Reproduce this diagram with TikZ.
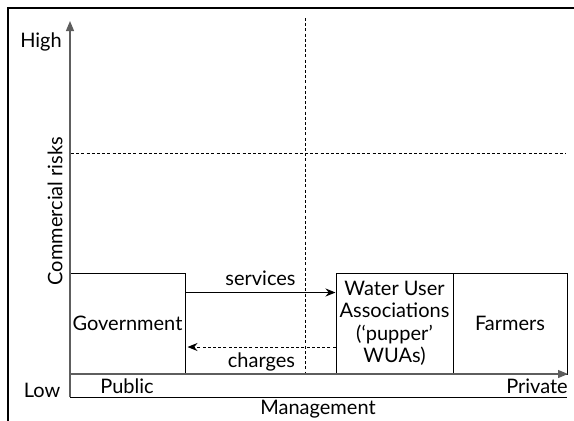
\documentclass[tikz,border=0pt]{standalone}
\usepackage{fontspec}
\setmainfont{Lato}
\usetikzlibrary{arrows.meta}
\definecolor{axisgray}{HTML}{5E5E5E}
\begin{document}
\begin{tikzpicture}[x=1pt,y=-1pt,
  txt/.style={font=\fontsize{20}{22.5}\selectfont, inner sep=0pt},
  actor/.style={draw=black, line width=1pt, inner sep=0pt, align=center,
                font=\fontsize{20}{22.5}\selectfont},
  axis/.style={draw=axisgray, line width=1.2pt},
  axisarrow/.style={axis, -{Triangle[length=10pt,width=8pt,fill=axisgray]}},
  grid/.style={draw=black, line width=0.9pt, dash pattern=on 3pt off 2.2pt},
  flow/.style={draw=black, line width=1pt, -{Stealth[length=10pt,width=8pt]}},
  flowback/.style={flow, dash pattern=on 3pt off 2.2pt}]
\useasboundingbox (0,0) rectangle (574,421);

% outer frame (top and left edges)
\draw[line width=1.4pt] (8,421) -- (8,8) -- (574,8);

% axis anchors
\coordinate (o) at (70,397);
\coordinate (ytop) at (70,21);
\coordinate (xl) at (70,374);
\coordinate (xr) at (568,374);
\coordinate (br) at (567,397);

% quadrant guides
\coordinate (vtop) at (305,18);
\coordinate (vbot) at (305,374);
\coordinate (hl) at (71,153);
\coordinate (hr) at (566,153);
\draw[grid] (vtop) -- (vbot);
\draw[grid] (hl) -- (hr);

% actors
\node[actor, minimum width=115pt, minimum height=101pt] (gov) at (127.5,323.5) {Government};
\node[actor, minimum width=117pt, minimum height=101pt] (wua) at (394.5,323.5)
  {Water User\\Associations\\(‘pupper’\\WUAs)};
\node[actor, minimum width=114pt, minimum height=101pt] (farm) at (510,323.5) {Farmers};

% axes
\draw[axisarrow] (o) -- (ytop);
\draw[axisarrow] (xl) -- (xr);
\draw[line width=1pt] (o) -- (br);

% flows between actors
\draw[flow] ([yshift=31pt]gov.east) -- ([yshift=31pt]wua.west)
  node[txt, midway, above=6pt] {services};
\draw[flowback] ([yshift=-23.5pt]wua.west) -- ([yshift=-23.5pt,xshift=2pt]gov.east)
  node[txt, midway, below=5pt] {charges};

% axis labels
\node[txt] (high) at (41,42) {High};
\node[txt] (low) at (42,390) {Low};
\node[txt, rotate=90] (risk) at (55,211) {Commercial risks};
\node[txt] (pub) at (127,386) {Public};
\node[txt] (priv) at (537,386) {Private};
\node[txt] (mgmt) at (318,409) {Management};
\end{tikzpicture}
\end{document}
